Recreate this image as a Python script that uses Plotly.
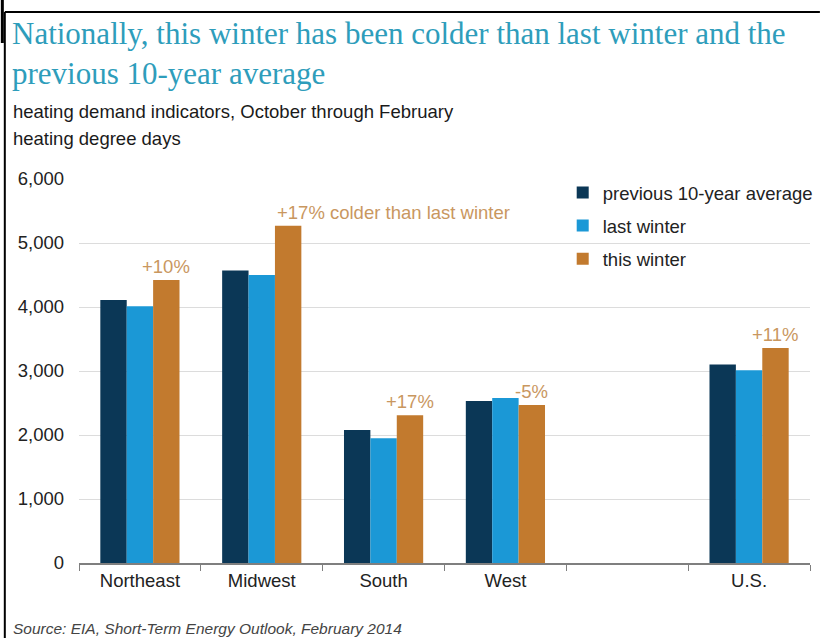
import plotly.graph_objects as go

categories = ["Northeast", "Midwest", "South", "West", " ", "U.S."]
prev_10yr_avg = [4110, 4570, 2080, 2530, None, 3100]
last_winter = [4010, 4500, 1950, 2580, None, 3010]
this_winter = [4420, 5270, 2310, 2470, None, 3360]
change_labels = ["+10%", "+17% colder than last winter", "+17%", "-5%", None, "+11%"]
y_ticks = [0, 1000, 2000, 3000, 4000, 5000, 6000]

W, H = 828, 638
L, R, T, B = 79, 10, 179, 75
BARGAP = 0.35

C_NAVY = "#0B3756"
C_BLUE = "#1B98D6"
C_ORANGE = "#C27A2E"
C_NOTE = "#C9975F"
FONT = "Liberation Sans, Arial, sans-serif"
FS = 18.5

def px_x(X):
    return (X - L) / (W - L - R)

def px_y(Y):
    return (H - B - Y) / (H - T - B)

fig = go.Figure()
for name, vals, col in [("previous 10-year average", prev_10yr_avg, C_NAVY),
                        ("last winter", last_winter, C_BLUE),
                        ("this winter", this_winter, C_ORANGE)]:
    fig.add_trace(go.Bar(x=categories, y=vals, name=name, marker_color=col,
                         marker_line_width=0, legendgroup=name))

bw = (1 - BARGAP) / 3
annotations = []
for i, lab in enumerate(change_labels):
    if lab is None:
        continue
    center = i + bw
    if lab.startswith("+17% colder"):
        annotations.append(dict(x=center - bw / 2, y=this_winter[i], xref="x", yref="y",
                                text=lab, showarrow=False, xanchor="left", yanchor="bottom",
                                yshift=1, font=dict(family=FONT, size=FS, color=C_NOTE)))
    else:
        annotations.append(dict(x=center, y=this_winter[i], xref="x", yref="y",
                                text=lab, showarrow=False, xanchor="center", yanchor="bottom",
                                yshift=1, font=dict(family=FONT, size=FS, color=C_NOTE)))

annotations += [
    dict(x=px_x(10), y=px_y(112), xref="paper", yref="paper", xanchor="left", yanchor="middle",
         text="heating demand indicators, October through February", showarrow=False,
         font=dict(family=FONT, size=FS, color="#1a1a1a")),
    dict(x=px_x(10), y=px_y(138), xref="paper", yref="paper", xanchor="left", yanchor="middle",
         text="heating degree days", showarrow=False,
         font=dict(family=FONT, size=FS, color="#1a1a1a")),
    dict(x=px_x(10), y=px_y(628), xref="paper", yref="paper", xanchor="left", yanchor="middle",
         text="<i>Source: EIA, Short-Term Energy Outlook, February 2014</i>", showarrow=False,
         font=dict(family=FONT, size=15.5, color="#444444")),
]

shapes = [
    dict(type="line", xref="paper", yref="paper", x0=px_x(4), x1=px_x(828), y0=px_y(12), y1=px_y(12),
         line=dict(color="black", width=2)),
    dict(type="line", xref="paper", yref="paper", x0=px_x(4), x1=px_x(4), y0=px_y(12), y1=px_y(640),
         line=dict(color="black", width=2)),
    dict(type="line", xref="paper", yref="paper", x0=px_x(1.5), x1=px_x(1.5), y0=px_y(0), y1=px_y(43),
         line=dict(color="black", width=3)),
]

fig.update_layout(
    width=W, height=H,
    margin=dict(l=L, r=R, t=T, b=B, pad=0),
    paper_bgcolor="white", plot_bgcolor="white",
    barmode="group", bargap=BARGAP, bargroupgap=0,
    font=dict(family=FONT, size=FS, color="#222222"),
    title=dict(text="Nationally, this winter has been colder than last winter and the<br>previous 10-year average",
               x=12 / W, xref="container", xanchor="left",
               y=1 - 44 / H, yref="container", yanchor="top",
               font=dict(family="Liberation Serif, Times New Roman, serif", size=31, color="#2E9DBB")),
    legend=dict(x=px_x(568), y=px_y(174), xanchor="left", yanchor="top",
                bgcolor="rgba(0,0,0,0)", font=dict(family=FONT, size=FS, color="#222222"),
                tracegroupgap=6, itemwidth=30),
    xaxis=dict(type="category", showline=True, linecolor="#7f7f7f", linewidth=1.5,
               ticks="outside", tickson="boundaries", ticklen=6, tickcolor="#7f7f7f",
               showgrid=False, tickfont=dict(size=FS, color="#222222")),
    yaxis=dict(range=[0, 6000], tickvals=y_ticks, tickformat=",", showgrid=True,
               gridcolor="#DCDCDC", gridwidth=1.2, zeroline=False, showline=False,
               ticklabelstandoff=14, tickfont=dict(size=FS, color="#222222")),
    annotations=annotations, shapes=shapes,
)

fig.write_html("out.html", config={"displayModeBar": False},
               post_script="document.body.style.margin='0';document.body.style.overflow='hidden';")
